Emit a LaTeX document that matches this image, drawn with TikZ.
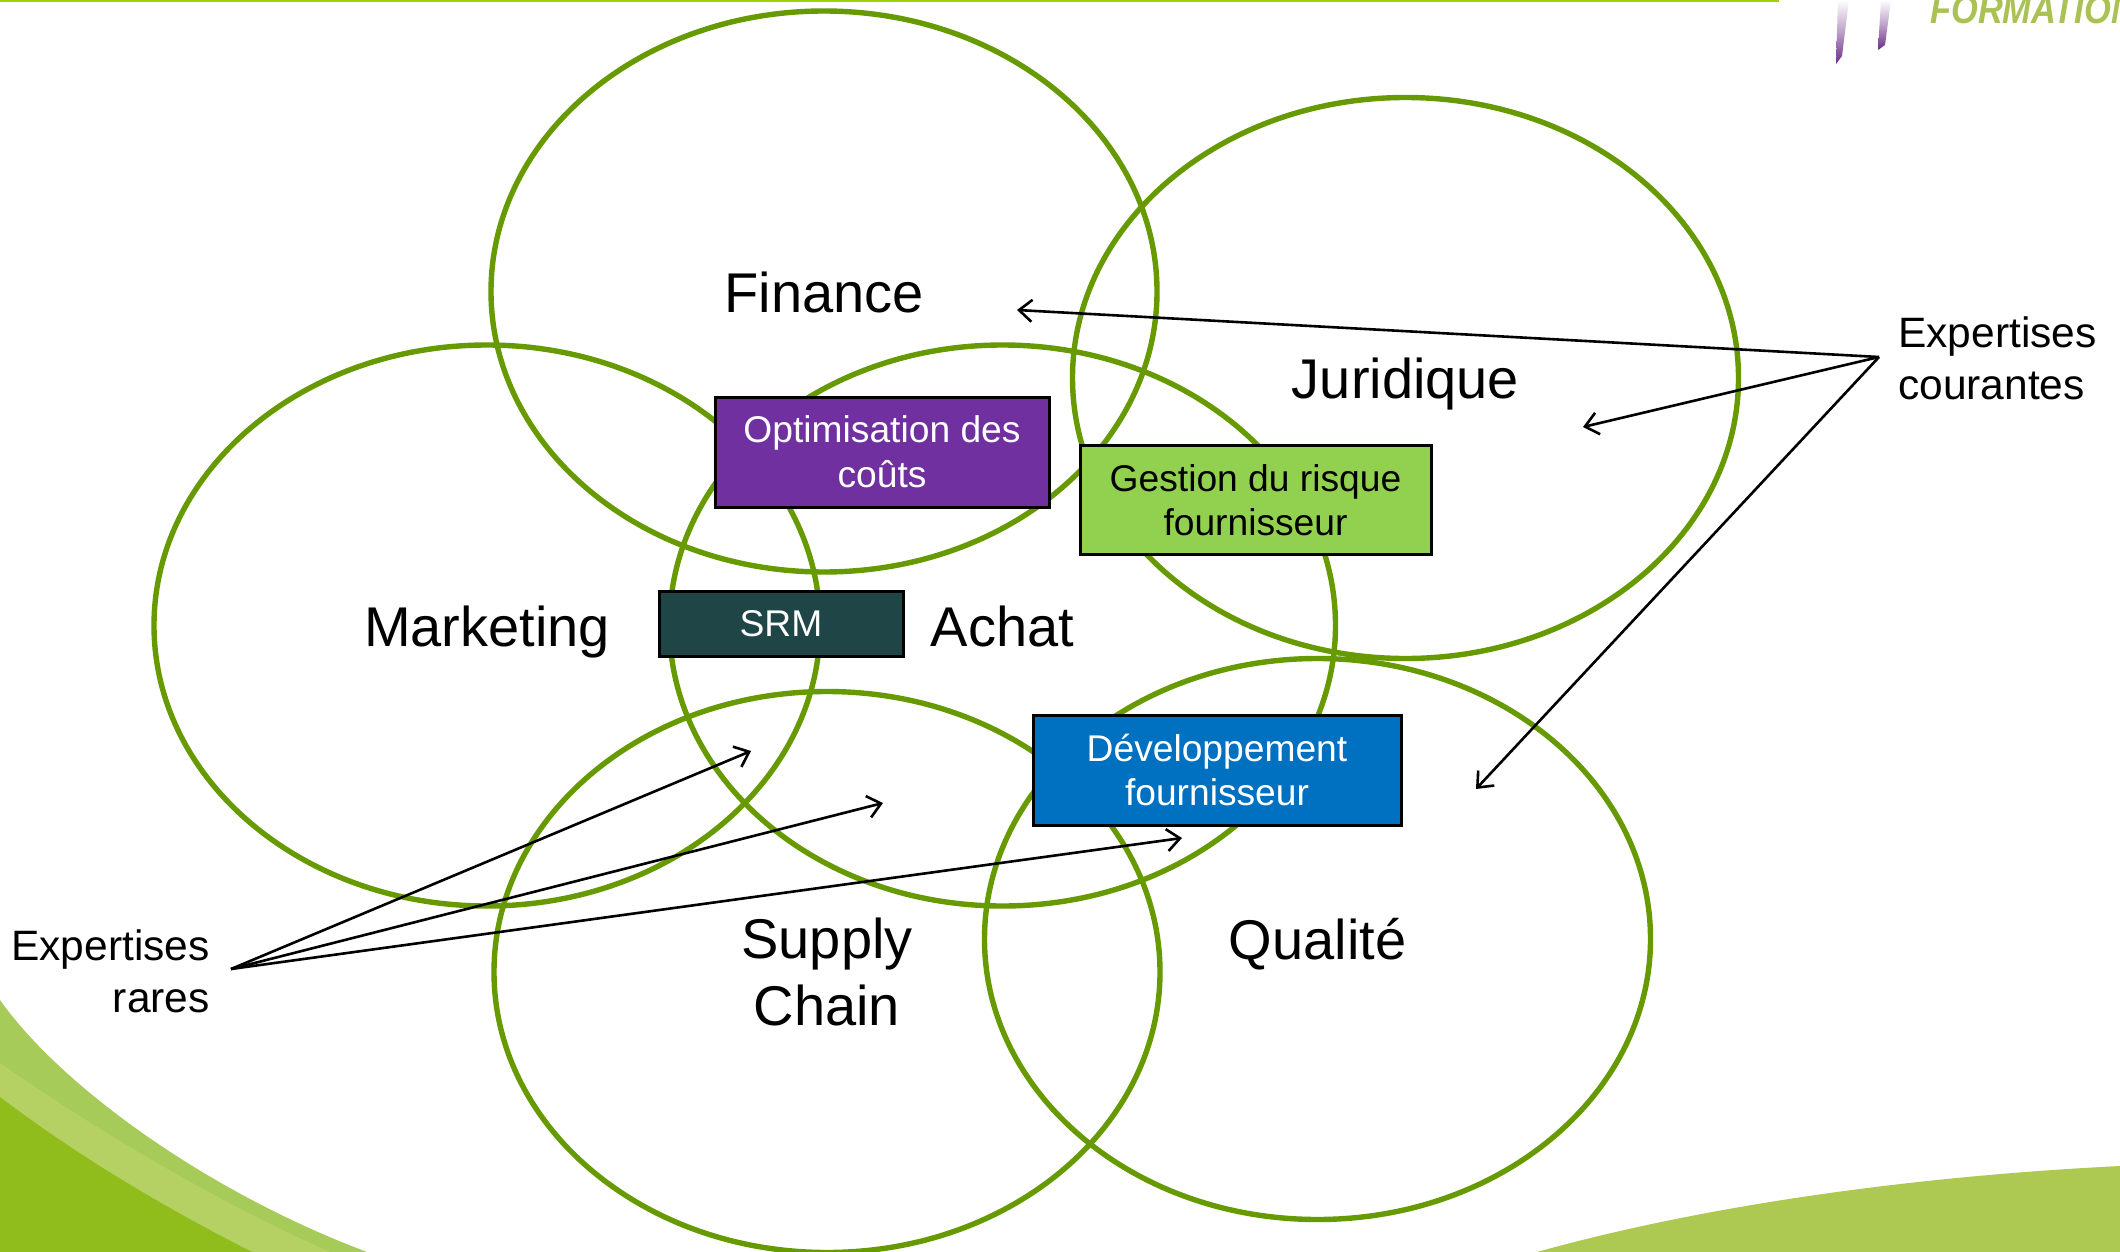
\documentclass[tikz,border=0pt]{standalone}
\usepackage{fontspec}
\setmainfont{Liberation Sans}
\newfontfamily\logofont[FakeStretch=0.86]{Liberation Sans}
\usetikzlibrary{shapes.geometric,arrows.meta}
\definecolor{ringgreen}{HTML}{669A00}
\definecolor{topline}{HTML}{9FD000}
\definecolor{swdark}{HTML}{90BC1C}
\definecolor{swlight}{HTML}{B5D164}
\definecolor{swmid}{HTML}{A6CB58}
\definecolor{swright}{HTML}{AEC952}
\definecolor{logogreen}{HTML}{A9C253}
\definecolor{logopurple}{HTML}{6A2C86}
\definecolor{boxpurple}{HTML}{7030A0}
\definecolor{boxgreen}{HTML}{92D050}
\definecolor{boxblue}{HTML}{0070C0}
\definecolor{boxteal}{HTML}{1F4547}
\tikzset{
  ring/.style={shape=ellipse,draw=ringgreen,line width=5.4pt,minimum width=666pt,minimum height=561pt,inner sep=0pt,
    align=center,font=\fontsize{56}{67}\selectfont,text=black},
  oneline/.style={text height=41pt,text depth=0pt},
  skillbox/.style={shape=rectangle,draw=black,line width=3pt,inner sep=0pt,align=center,font=\fontsize{37.2}{44.6}\selectfont},
  sidetext/.style={inner sep=0pt,font=\fontsize{42.5}{52}\selectfont,text=black},
  arrowline/.style={draw=black,line width=2.6pt,-{Straight Barb[length=13pt,width=22pt,line width=2.6pt]}},
}
\begin{document}
\begin{tikzpicture}[x=1pt,y=-1pt]
\useasboundingbox (0,0) rectangle (2120,1252);
\clip (0,0) rectangle (2120,1252);
\fill[white] (0,0) rectangle (2120,1252);
% background swooshes
\fill[swmid] (0,1000) .. controls (60,1085) and (205,1191) .. (367,1252) -- (0,1252) -- cycle;
\fill[swlight] (0,1063) .. controls (60,1105) and (190,1190) .. (330,1252) -- (0,1252) -- cycle;
\fill[swdark] (0,1097) .. controls (70,1150) and (150,1200) .. (252,1252) -- (0,1252) -- cycle;
\fill[swright] (1537,1252) .. controls (1680,1212) and (1880,1178) .. (2120,1166) -- (2120,1252) -- cycle;
% top rule and logo
\fill[topline] (0,0) rectangle (1779,2);
\shade[top color=white,bottom color=logopurple,middle color=logopurple!45] (1838,0) -- (1849,0) -- (1842,56) -- (1836,64) -- cycle;
\shade[top color=white,bottom color=logopurple,middle color=logopurple!45] (1881,0) -- (1891,0) -- (1885,45) -- (1878,50) -- cycle;
\node[anchor=base west,inner sep=0pt,text=logogreen,font=\fontsize{40}{40}\logofont\bfseries\itshape] (logo) at (1930,24) {FORMATION};
% rings
\node[ring,oneline] (finance) at (824,291.5) {Finance};
\node[ring,oneline] (juridique) at (1405.5,378) {Juridique};
\node[ring,oneline] (marketing) at (487,625.5) {Marketing};
\node[ring,oneline] (achat) at (1002.5,625.5) {Achat};
\node[ring] (supply) at (827,972) {Supply\\Chain};
\node[ring,oneline] (qualite) at (1317.5,939) {Qualité};
% boxes
\node[skillbox,fill=boxpurple,text=white,minimum width=334pt,minimum height=110pt] (optim) at (882,452) {Optimisation des\\coûts};
\node[skillbox,fill=boxgreen,text=black,minimum width=351pt,minimum height=109pt] (risque) at (1255.5,500) {Gestion du risque\\fournisseur};
\node[skillbox,fill=boxteal,text=white,minimum width=244pt,minimum height=65pt] (srm) at (781,624) {SRM};
\node[skillbox,fill=boxblue,text=white,minimum width=368pt,minimum height=110pt] (dev) at (1217,770) {Développement\\fournisseur};
% side texts
\node[sidetext,align=left,anchor=north west] (courantes) at (1898,317) {Expertises\\courantes};
\node[sidetext,align=right,anchor=north east] (rares) at (210,929) {Expertises\\rares};
% connector ends
\coordinate (hubc) at (1879,357);
\coordinate (hubr) at (231,969);
\coordinate (c1) at (1017,310);
\coordinate (c2) at (1583,427);
\coordinate (c3) at (1476,789);
\coordinate (r1) at (751,751);
\coordinate (r2) at (883,803);
\coordinate (r3) at (1182,838);
\draw[arrowline] (hubc) -- (c1);
\draw[arrowline] (hubc) -- (c2);
\draw[arrowline] (hubc) -- (c3);
\draw[arrowline] (hubr) -- (r1);
\draw[arrowline] (hubr) -- (r2);
\draw[arrowline] (hubr) -- (r3);
\end{tikzpicture}
\end{document}
